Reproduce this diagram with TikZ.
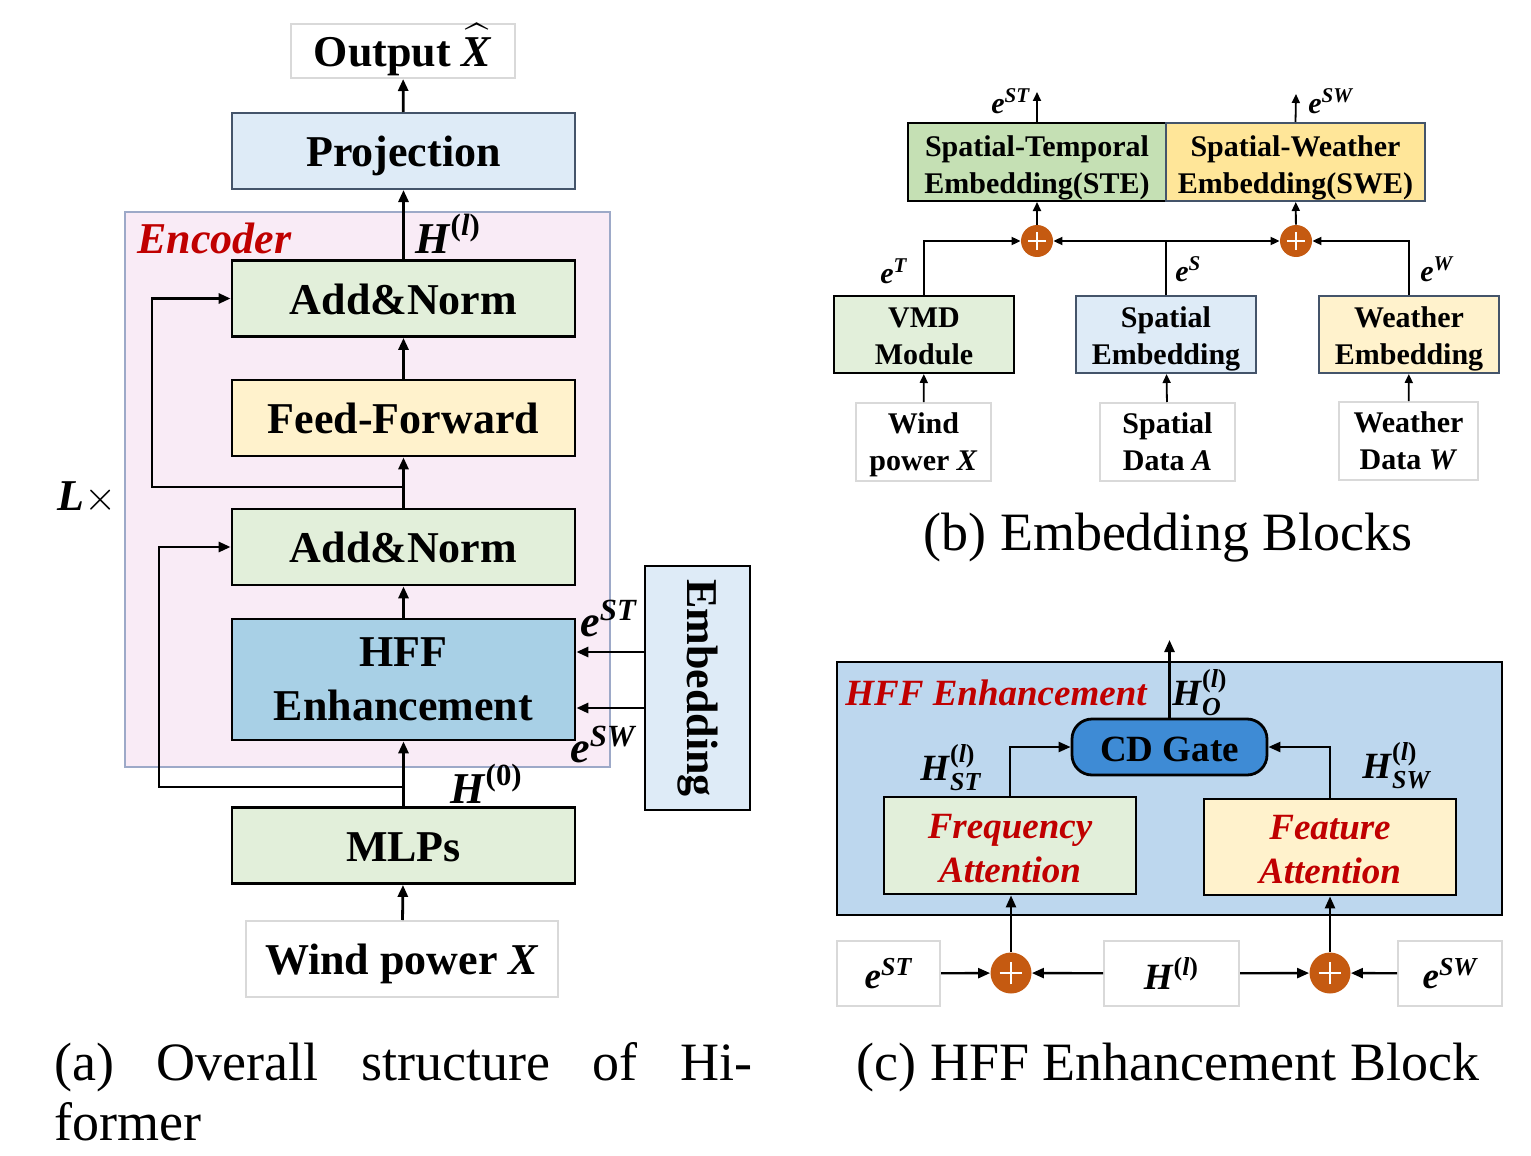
\documentclass[tikz,border=0pt]{standalone}
\usepackage{fontspec}
\usepackage{amsmath}
\setmainfont{Liberation Serif}
\usetikzlibrary{arrows.meta}

\definecolor{lgreen}{HTML}{E2EFDA}
\definecolor{lyellow}{HTML}{FFF2CC}
\definecolor{lblue}{HTML}{DEEBF7}
\definecolor{hffblue}{HTML}{A8D0E6}
\definecolor{encpink}{HTML}{F9EBF6}
\definecolor{encline}{HTML}{9DA9C8}
\definecolor{stegreen}{HTML}{C5E0B4}
\definecolor{sweyellow}{HTML}{FFE699}
\definecolor{plusor}{HTML}{C55A11}
\definecolor{hffbg}{HTML}{BDD7EE}
\definecolor{gateblue}{HTML}{3E8BD5}
\definecolor{encred}{HTML}{C00000}
\definecolor{boxgray}{HTML}{D9D9D9}
\definecolor{slate}{HTML}{44546A}

\newcommand\bi[1]{\textbf{\textit{#1}}}
\newcommand\fntA{\fontsize{22}{27}\selectfont\bfseries}
\newcommand\fntB{\fontsize{15}{18.5}\selectfont\bfseries}
\newcommand\fntC{\fontsize{18.5}{22}\selectfont\bfseries}
\newcommand\fntCap{\fontsize{27}{32}\selectfont}

\begin{document}
\begin{tikzpicture}[x=0.5pt,y=-0.5pt,
	arr/.style={-{Triangle[length=6pt,width=5pt]},line width=1.4pt},
	sarr/.style={-{Triangle[length=4.5pt,width=4pt]},line width=0.9pt},
	tline/.style={text height=17pt,text depth=1.5pt},
	abox/.style={draw=black,line width=1.4pt,minimum width=171.5pt,minimum height=38pt,
		inner sep=0pt,align=center,font=\fntA,tline},
	bbox/.style={draw=black,line width=1pt,minimum width=90pt,minimum height=38.5pt,
		inner sep=0pt,align=center,font=\fntB,text height=29.5pt,text depth=0pt},
	cbox/.style={draw=black,line width=1.4pt,minimum width=126pt,minimum height=48.5pt,
		inner sep=0pt,align=center,font=\fntC\itshape,text=encred,text height=36.5pt,text depth=0pt},
	inbox/.style={draw=boxgray,line width=1pt,fill=white,inner sep=0pt,align=center},
	lab/.style={anchor=base west,inner sep=0pt},
	addop/.style={circle,fill=plusor,inner sep=0pt,minimum size=#1,
		path picture={\draw[white,line width=1pt]
			([xshift=-0.28*#1]path picture bounding box.center) -- ([xshift=0.28*#1]path picture bounding box.center)
			([yshift=-0.28*#1]path picture bounding box.center) -- ([yshift=0.28*#1]path picture bounding box.center);}}]
\useasboundingbox (0,0) rectangle (1531,1156);

% (a) overall structure
\draw[encline,fill=encpink,line width=0.6pt] (125,212) rectangle (610,767);
\node[font=\fntA\itshape,text=encred,lab] (enclab) at (137,253) {Encoder};
\node[inbox,minimum width=112pt,minimum height=27pt,font=\fntA,tline] (out) at (403,51) {Output $\widehat{\rule{0pt}{15.5pt}\smash{\bi{X}}}$};
\node[abox,fill=lblue,draw=slate,line width=1pt] (proj) at (403.5,151) {Projection};
\node[abox,fill=lgreen] (an1) at (403.5,298.5) {Add\&Norm};
\node[abox,fill=lyellow] (ff) at (403.5,418) {Feed-Forward};
\node[abox,fill=lgreen] (an2) at (403.5,547) {Add\&Norm};
\node[abox,fill=hffblue,minimum height=60.5pt,text height=,text depth=] (hff) at (403.5,679.5) {HFF\\Enhancement};
\node[abox,fill=lgreen] (mlp) at (403.5,845.5) {MLPs};
\node[inbox,minimum width=156pt,minimum height=38pt,font=\fntA,tline] (wind) at (402,959) {Wind power \textit{X}};
\node[abox,fill=lblue,minimum width=52.5pt,minimum height=122pt,text height=,text depth=] (emb) at (697.5,688) {\rotatebox{-90}{Embedding}};

\draw[arr] (wind) -- (mlp);
\draw[arr] (mlp) -- (hff);
\draw[arr] (hff) -- (an2);
\draw[arr] (an2) -- (ff);
\draw[arr] (ff) -- (an1);
\draw[arr] (an1) -- (proj);
\draw[arr] (proj) -- (out);
\coordinate (sk0) at (403.5,787);
\coordinate (sk1) at (403.5,487);
\draw[arr] (sk0) -| (159,547) -- (an2.west);
\draw[arr] (sk1) -| (152,298.5) -- (an1.west);
\draw[arr] (emb.west |- 0,652) -- (hff.east |- 0,652);
\draw[arr] (emb.west |- 0,708) -- (hff.east |- 0,708);

\node[lab,font=\fntA] (hl) at (415,253) {$\bi{H}^{\textbf{(\textit{l})}}$};
\node[lab,font=\fntA] (h0) at (450,803) {$\bi{H}^{\textbf{(0)}}$};
\node[lab,font=\fntA] (est) at (580,636) {$\bi{e}^{\textit{ST}}$};
\node[lab,font=\fntA] (esw) at (570,762) {$\bi{e}^{\textit{SW}}$};
\node[lab,font=\fntA] (lx) at (57,510) {\textit{L}$\times$};

% (b) embedding blocks
\node[bbox,fill=stegreen,minimum width=129pt,minimum height=39pt,text height=31pt] (ste) at (1037,162) {Spatial-Temporal\\Embedding(STE)};
\node[bbox,fill=sweyellow,draw=slate,minimum width=129.5pt,minimum height=39pt,text height=31pt] (swe) at (1295.5,162) {Spatial-Weather\\Embedding(SWE)};
\node[addop=16pt] (p1) at (1037,241) {};
\node[addop=16pt] (p2) at (1296,241) {};
\node[bbox,fill=lgreen] (vmd) at (924,334.5) {VMD\\Module};
\node[bbox,fill=lblue,draw=slate] (spe) at (1166,334.5) {Spatial\\Embedding};
\node[bbox,fill=lyellow,draw=slate] (wte) at (1409,334.5) {Weather\\Embedding};
\node[inbox,font=\fntB,minimum width=67.5pt,minimum height=39pt,text height=28pt,text depth=0pt] (in1) at (923.5,442) {Wind\\power \textit{X}};
\node[inbox,font=\fntB,minimum width=67.5pt,minimum height=39pt,text height=28pt,text depth=0pt] (in2) at (1167.5,442) {Spatial\\Data \textit{A}};
\node[inbox,font=\fntB,minimum width=69.5pt,minimum height=39pt,text height=28pt,text depth=0pt] (in3) at (1408.5,441) {Weather\\Data \textit{W}};
\coordinate (ost) at (1037,92);
\coordinate (osw) at (1296,94);

\draw[sarr] (in1) -- (vmd);
\draw[sarr] (in2) -- (spe);
\draw[sarr] (in3) -- (wte);
\draw[sarr] (vmd.north) |- (p1.west);
\draw[sarr] (spe.north) |- (p1.east);
\draw[sarr] (spe.north) |- (p2.west);
\draw[sarr] (wte.north) |- (p2.east);
\draw[sarr] (p1) -- (ste);
\draw[sarr] (p2) -- (swe);
\draw[sarr] (ste.north) -- (ost);
\draw[sarr] (swe.north) -- (osw);

\node[lab,font=\fntB] (lst) at (991,113) {$\bi{e}^{\textit{ST}}$};
\node[lab,font=\fntB] (lsw) at (1308,113) {$\bi{e}^{\textit{SW}}$};
\node[lab,font=\fntB] (lt) at (880,283) {$\bi{e}^{\textit{T}}$};
\node[lab,font=\fntB] (ls) at (1175,281) {$\bi{e}^{\textit{S}}$};
\node[lab,font=\fntB] (lw) at (1420,281) {$\bi{e}^{\textit{W}}$};

% (c) HFF enhancement block
\draw[black,fill=hffbg,line width=0.8pt] (837,662) rectangle (1502,915);
\node[font=\fntC\itshape,text=encred,lab] (hfflab) at (845,705) {HFF Enhancement};
\node[draw=black,line width=1.4pt,fill=gateblue,rounded corners=10pt,minimum width=97.5pt,
	minimum height=28pt,inner sep=0pt,font=\fntC,text height=14pt,text depth=0pt] (cdg) at (1169.5,747) {CD Gate};
\node[cbox,fill=lgreen] (fa) at (1010,845.5) {Frequency\\Attention};
\node[cbox,fill=lyellow,minimum height=48pt] (fe) at (1330,847) {Feature\\Attention};
\node[inbox,minimum width=51.5pt,minimum height=32.5pt,font=\fntC] (cst) at (888.5,973.5) {$\bi{e}^{\textit{ST}}$};
\node[inbox,minimum width=67.5pt,minimum height=32.5pt,font=\fntC] (chl) at (1171.5,973.5) {$\bi{H}^{\textbf{(\textit{l})}}$};
\node[inbox,minimum width=52pt,minimum height=32.5pt,font=\fntC] (csw) at (1450,973.5) {$\bi{e}^{\textit{SW}}$};
\node[addop=20.5pt] (q1) at (1011,973) {};
\node[addop=20.5pt] (q2) at (1330,973) {};
\coordinate (hout) at (1169.5,640);

\draw[arr,line width=1.2pt] (cst) -- (q1);
\draw[arr,line width=1.2pt] (chl) -- (q1);
\draw[arr,line width=1.2pt] (chl) -- (q2);
\draw[arr,line width=1.2pt] (csw) -- (q2);
\draw[arr,line width=1.2pt] (q1) -- (q1 |- fa.south);
\draw[arr,line width=1.2pt] (q2) -- (q2 |- fe.south);
\draw[arr,line width=1.2pt] (fa.north) |- (cdg.west);
\draw[arr,line width=1.2pt] (fe.north) |- (cdg.east);
\draw[arr,line width=1.2pt] (cdg.north) -- (hout);

\node[lab,font=\fntC] (lho) at (1172,705) {$\bi{H}^{\textbf{(\textit{l})}}_{\bi{O}}$};
\node[lab,font=\fntC] (lhst) at (920,780) {$\bi{H}^{\textbf{(\textit{l})}}_{\bi{ST}}$};
\node[lab,font=\fntC] (lhsw) at (1362,778) {$\bi{H}^{\textbf{(\textit{l})}}_{\bi{SW}}$};

% captions
\node[lab,font=\fntCap] (capa) at (54,1080) {\hbox to 349pt{(a)\hfill Overall\hfill structure\hfill of\hfill Hi-}};
\node[lab,font=\fntCap] (capa2) at (54,1140) {former};
\node[anchor=base,inner sep=0pt,font=\fntCap] (capb) at (1168,550) {(b) Embedding Blocks};
\node[anchor=base,inner sep=0pt,font=\fntCap] (capc) at (1168,1080) {(c) HFF Enhancement Block};
\end{tikzpicture}
\end{document}
